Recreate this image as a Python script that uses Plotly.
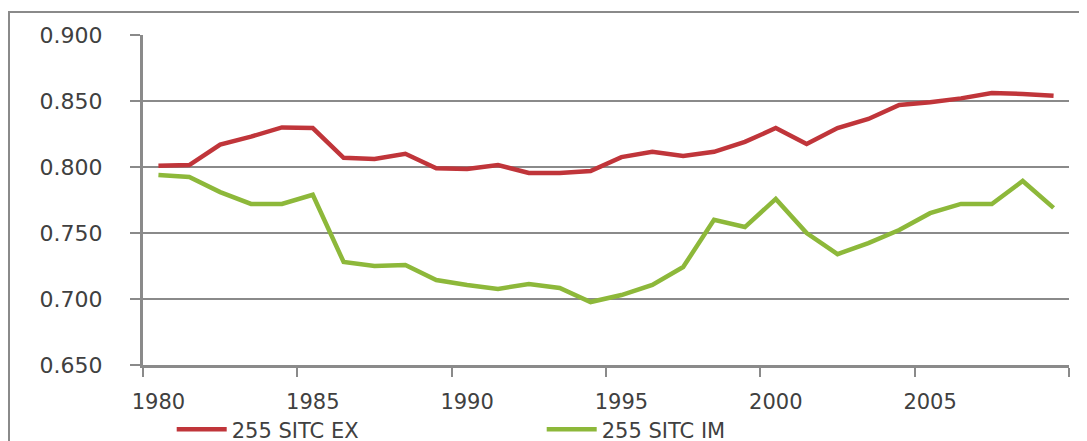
import plotly.graph_objects as go

years = list(range(1980, 2010))
sitc_ex = [0.801, 0.8015, 0.817, 0.823, 0.830, 0.8295, 0.807, 0.806, 0.810, 0.799,
           0.7985, 0.8015, 0.7955, 0.7955, 0.797, 0.8075, 0.8115, 0.8083, 0.8115, 0.819,
           0.8295, 0.8174, 0.8295, 0.8364, 0.847, 0.849, 0.852, 0.856, 0.8553, 0.854]
sitc_im = [0.794, 0.7925, 0.781, 0.772, 0.772, 0.779, 0.728, 0.725, 0.7258, 0.7144,
           0.7106, 0.7076, 0.7114, 0.7083, 0.6977, 0.703, 0.7106, 0.7242, 0.760, 0.7545,
           0.7758, 0.750, 0.734, 0.7424, 0.7523, 0.765, 0.772, 0.772, 0.7894, 0.769]
label_years = years[::5]
boundaries = [y - 0.5 for y in label_years] + [years[-1] + 0.5]

grey = "#8a8a8a"
txt = "#404040"

fig = go.Figure()
fig.add_trace(go.Scatter(x=years, y=sitc_ex, mode="lines", name="255 SITC EX",
                         line=dict(color="#C0353A", width=4.5)))
fig.add_trace(go.Scatter(x=years, y=sitc_im, mode="lines", name="255 SITC IM",
                         line=dict(color="#8DB83A", width=4.5)))

fig.update_layout(
    width=1087, height=441,
    margin=dict(l=135, r=26, t=27, b=84, autoexpand=False),
    paper_bgcolor="white", plot_bgcolor="white",
    font=dict(family="DejaVu Sans", color=txt, size=22),
    showlegend=True,
    legend=dict(orientation="h", x=0.031, y=-0.134, xanchor="left", yanchor="top",
                font=dict(size=21, color=txt), entrywidth=305, entrywidthmode="pixels",
                bgcolor="rgba(0,0,0,0)", itemwidth=50),
    shapes=[dict(type="rect", xref="paper", yref="paper",
                 x0=(1 - 135) / 926, x1=1.2, y0=-0.5, y1=1 + 23 / 330,
                 line=dict(color=grey, width=2), layer="below")],
)
fig.update_xaxes(
    range=[years[0] - 0.5, years[-1] + 0.5],
    tickvals=label_years, ticktext=[str(y) for y in label_years],
    ticks="", showgrid=False, zeroline=False,
    showline=True, linecolor=grey, linewidth=3,
    ticklabelstandoff=16,
    minor=dict(tickvals=boundaries, ticks="outside", ticklen=9, tickcolor=grey,
               tickwidth=2, showgrid=False),
    tickfont=dict(size=21, color=txt),
)
fig.update_yaxes(
    range=[0.65, 0.90], dtick=0.05, tick0=0.65, tickformat=".3f",
    ticks="outside", ticklen=10, tickcolor=grey, tickwidth=2,
    showgrid=True, gridcolor=grey, gridwidth=2, zeroline=False,
    showline=True, linecolor=grey, linewidth=3,
    ticklabelstandoff=23,
    tickfont=dict(size=22, color=txt),
)

fig.write_html("out.html")
